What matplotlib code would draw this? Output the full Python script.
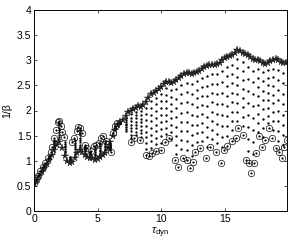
import numpy as np
import matplotlib
matplotlib.use("Agg")
import matplotlib.pyplot as plt

plt.rcParams['font.family'] = ['Liberation Sans', 'DejaVu Sans']
plt.rcParams['mathtext.fontset'] = 'custom'
plt.rcParams['mathtext.rm'] = 'Liberation Sans'
plt.rcParams['mathtext.it'] = 'Liberation Sans:italic'

# ---- data ----
# upper curve (stars), step 0.2 from 0 to 19.8
tau_star = np.round(np.arange(0, 19.81, 0.2), 1)
beta_star = [
    0.55, 0.62, 0.70, 0.78, 0.85, 0.93, 1.02, 1.12, 1.22, 1.32,
    1.38, 1.25, 1.10, 1.00, 0.95, 0.97, 1.05, 1.15, 1.22, 1.18,
    1.12, 1.08, 1.05, 1.05, 1.02, 1.03, 1.08, 1.12, 1.15, 1.25,
    1.38, 1.50, 1.62, 1.72, 1.78, 1.82, 1.90, 1.97, 2.00, 2.02,
    2.05, 2.08, 2.06, 2.10, 2.16, 2.25, 2.32, 2.35, 2.38, 2.42,
    2.47, 2.52, 2.57, 2.57, 2.55, 2.56, 2.60, 2.64, 2.68, 2.72,
    2.74, 2.74, 2.73, 2.75, 2.76, 2.78, 2.82, 2.86, 2.89, 2.90,
    2.90, 2.90, 2.92, 2.95, 3.00, 3.04, 3.07, 3.08, 3.10, 3.14,
    3.20, 3.19, 3.15, 3.13, 3.10, 3.06, 3.03, 3.01, 3.00, 2.98,
    2.95, 2.93, 2.95, 2.98, 3.00, 3.02, 3.00, 2.97, 2.95, 2.95,
]

# intermediate curves (dots), step 0.4 from 0 to 19.6
tau_dot = np.round(np.arange(0, 19.61, 0.4), 1)
dots_1 = [0.55, 0.71, 0.86, 1.03, 1.25, 1.43, 1.13, 0.97, 1.09, 1.27, 1.14, 1.07, 1.05, 1.12, 1.18, 1.36, 1.63, 1.78, 1.86, 1.93, 1.98, 1.99, 2.04, 2.19, 2.25, 2.33, 2.44, 2.41, 2.42, 2.50, 2.55, 2.53, 2.59, 2.64, 2.69, 2.72, 2.72, 2.78, 2.87, 2.91, 3.02, 2.97, 2.86, 2.79, 2.82, 2.76, 2.80, 2.83, 2.80, 2.74]
dots_2 = [0.55, 0.71, 0.87, 1.04, 1.27, 1.47, 1.17, 0.98, 1.14, 1.32, 1.16, 1.08, 1.08, 1.15, 1.21, 1.34, 1.64, 1.77, 1.82, 1.86, 1.92, 1.91, 1.93, 2.05, 2.12, 2.19, 2.31, 2.27, 2.23, 2.32, 2.36, 2.32, 2.41, 2.46, 2.49, 2.53, 2.53, 2.57, 2.68, 2.73, 2.85, 2.79, 2.62, 2.56, 2.64, 2.58, 2.65, 2.66, 2.60, 2.54]
dots_3 = [0.55, 0.72, 0.87, 1.05, 1.30, 1.52, 1.20, 1.00, 1.18, 1.37, 1.19, 1.10, 1.11, 1.19, 1.24, 1.32, 1.65, 1.77, 1.78, 1.79, 1.85, 1.84, 1.81, 1.92, 1.99, 2.05, 2.18, 2.13, 2.05, 2.14, 2.17, 2.12, 2.24, 2.29, 2.29, 2.35, 2.33, 2.35, 2.48, 2.54, 2.67, 2.61, 2.38, 2.32, 2.47, 2.39, 2.50, 2.48, 2.40, 2.33]
dots_4 = [0.55, 0.72, 0.88, 1.06, 1.32, 1.57, 1.23, 1.02, 1.23, 1.42, 1.21, 1.12, 1.14, 1.22, 1.27, 1.30, 1.66, 1.77, 1.74, 1.72, 1.78, 1.77, 1.70, 1.79, 1.86, 1.91, 2.05, 1.99, 1.87, 1.96, 1.98, 1.92, 2.07, 2.11, 2.09, 2.17, 2.13, 2.13, 2.28, 2.35, 2.50, 2.43, 2.14, 2.08, 2.29, 2.21, 2.35, 2.31, 2.20, 2.13]
dots_5 = [0.55, 0.73, 0.89, 1.06, 1.35, 1.61, 1.27, 1.03, 1.27, 1.46, 1.23, 1.13, 1.18, 1.26, 1.30, 1.28, 1.66, 1.76, 1.71, 1.66, 1.72, 1.69, 1.58, 1.65, 1.72, 1.78, 1.92, 1.86, 1.68, 1.77, 1.78, 1.71, 1.89, 1.93, 1.88, 1.98, 1.94, 1.92, 2.09, 2.17, 2.32, 2.24, 1.91, 1.85, 2.11, 2.02, 2.20, 2.14, 2.00, 1.92]
dots_6 = [0.55, 0.73, 0.90, 1.07, 1.37, 1.66, 1.30, 1.05, 1.32, 1.51, 1.25, 1.15, 1.21, 1.29, 1.33, 1.26, 1.67, 1.76, 1.67, 1.59, 1.65, 1.62, 1.47, 1.52, 1.59, 1.64, 1.79, 1.72, 1.50, 1.59, 1.59, 1.51, 1.72, 1.75, 1.68, 1.80, 1.74, 1.70, 1.89, 1.98, 2.15, 2.06, 1.67, 1.61, 1.93, 1.84, 2.05, 1.97, 1.80, 1.72]
dots_7 = [0.55, 0.74, 0.90, 1.08, 1.40, 1.71, 1.33, 1.07, 1.36, 1.56, 1.28, 1.17, 1.24, 1.33, 1.36, 1.24, 1.68, 1.76, 1.63, 1.52, 1.58, 1.55, 1.35, 1.39, 1.46, 1.50, 1.66, 1.58, 1.32, 1.41, 1.40, 1.31, 1.55, 1.58, 1.48, 1.62, 1.54, 1.48, 1.69, 1.79, 1.97, 1.88, 1.43, 1.37, 1.76, 1.65, 1.90, 1.79, 1.60, 1.51]
dots_8 = [0.55, 0.74, 0.91, 1.09, 1.42, 1.75, 1.37, 1.08, 1.41, 1.61, 1.30, 1.18, 1.27, 1.36, 1.39, 1.22, 1.69, 1.75, 1.59, 1.45, 1.52, 1.47, 1.24, 1.25, 1.33, 1.36, 1.53, 1.44, 1.13, 1.23, 1.21, 1.10, 1.37, 1.40, 1.28, 1.43, 1.35, 1.27, 1.50, 1.61, 1.80, 1.70, 1.19, 1.14, 1.58, 1.47, 1.75, 1.62, 1.40, 1.31]

# lower curve (circles)
tau_circ = [0.0, 0.15, 0.3, 0.5, 0.7, 0.9, 1.1, 1.3, 1.45, 1.6, 1.7, 1.85, 2.0, 2.1, 2.2, 2.35,
            3.0, 3.15, 3.35, 3.5, 3.65, 3.8, 4.0, 4.2, 4.45, 4.7, 4.9, 5.1, 5.3, 5.45, 5.65,
            5.85, 6.05, 6.2, 6.35, 6.5, 7.6, 7.9, 8.3, 8.8, 9.05, 9.3, 9.6, 9.95, 10.3, 10.6,
            11.1, 11.35, 11.7, 12.0, 12.3, 12.5, 12.7, 13.05, 13.5, 13.85, 14.3, 14.7, 14.95,
            15.2, 15.6, 15.9, 16.05, 16.4, 16.65, 16.9, 17.05, 17.3, 17.45, 17.7, 17.97, 18.2,
            18.5, 18.75, 19.0, 19.3, 19.5, 19.67, 19.9]
beta_circ = [0.55, 0.62, 0.70, 0.80, 0.88, 0.95, 1.05, 1.18, 1.28, 1.45, 1.62, 1.78, 1.80, 1.70, 1.58, 1.48,
             1.38, 1.45, 1.60, 1.68, 1.66, 1.55, 1.32, 1.25, 1.20, 1.30, 1.32, 1.35, 1.45, 1.50, 1.40,
             1.28, 1.18, 1.55, 1.70, 1.75, 1.38, 1.45, 1.42, 1.12, 1.10, 1.15, 1.20, 1.22, 1.38, 1.45,
             1.02, 0.88, 1.05, 1.02, 0.86, 0.98, 1.18, 1.25, 1.05, 1.28, 1.18, 0.95, 1.21,
             1.30, 1.40, 1.45, 1.65, 1.52, 1.01, 0.95, 0.75, 0.95, 1.15, 1.50, 1.28, 1.41,
             1.65, 1.45, 1.25, 1.18, 1.05, 1.28, 1.41]

x_ticks = [0, 5, 10, 15]
y_ticks = [0, 0.5, 1, 1.5, 2, 2.5, 3, 3.5, 4]
y_tick_labels = ['0', '0.5', '1', '1.5', '2', '2.5', '3', '3.5', '4']

# ---- plot ----
fig = plt.figure(figsize=(2.95, 2.42), dpi=100)
ax = fig.add_axes([34 / 295, 31 / 242, 253 / 295, 201 / 242])

for d in [dots_1, dots_2, dots_3, dots_4, dots_5, dots_6, dots_7, dots_8]:
    ax.plot(tau_dot, d, linestyle='none', marker='o', markersize=1.7, color='black',
            markeredgewidth=0)

ax.plot(tau_star, beta_star, linestyle='none', marker='*', markersize=5.6,
        color='#222222', markeredgewidth=0.3)

ax.plot(tau_circ, beta_circ, linestyle='none', marker='o', markersize=4.6,
        markerfacecolor='none', markeredgecolor='#111111', markeredgewidth=0.5)
ax.plot(tau_circ, beta_circ, linestyle='none', marker='o', markersize=1.6,
        color='black', markeredgewidth=0)

ax.set_xlim(0, 19.9)
ax.set_ylim(0, 4)
ax.set_xticks(x_ticks)
ax.set_xticklabels([str(t) for t in x_ticks])
ax.set_yticks(y_ticks)
ax.set_yticklabels(y_tick_labels)
ax.tick_params(direction='in', length=2.5, width=0.5, labelsize=7.5,
               top=True, right=True, pad=2)
for s in ax.spines.values():
    s.set_linewidth(0.7)
ax.set_xlabel(r'$\tau_{\mathrm{dyn}}$', fontsize=8, labelpad=1)
ax.set_ylabel('1/β', fontsize=7.5, labelpad=3)

fig.savefig('out.png', dpi=100)
